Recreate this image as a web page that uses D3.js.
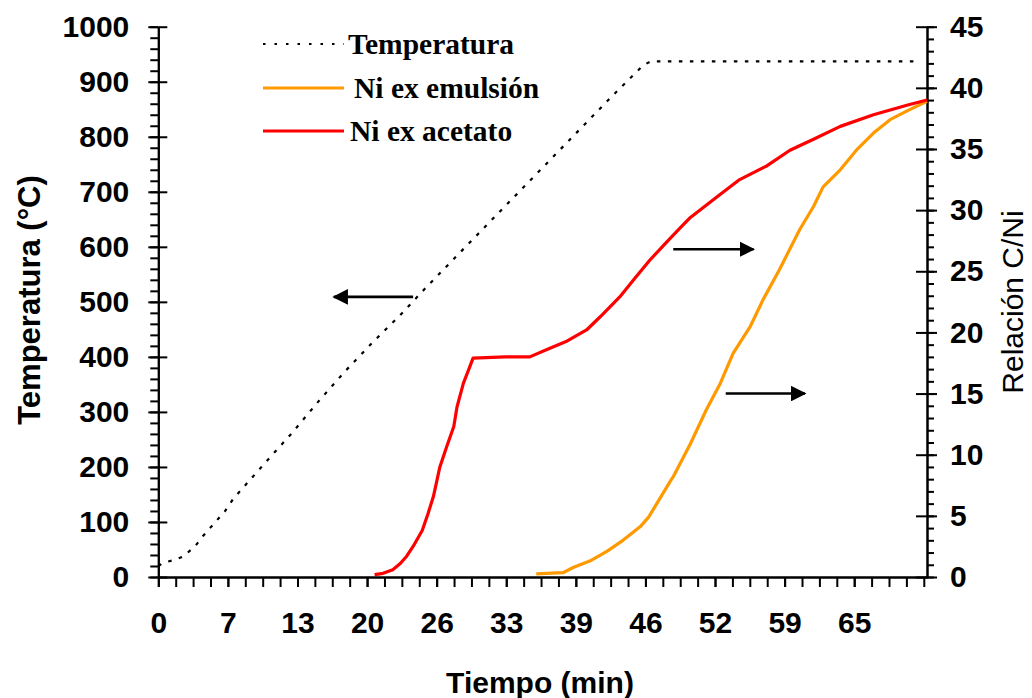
<!DOCTYPE html>
<html><head><meta charset="utf-8">
<script src="https://cdn.jsdelivr.net/npm/d3@7"></script>
<style>
body{margin:0;background:#fff;}
svg{display:block;}
</style></head>
<body>
<svg id="c" width="1032" height="698"></svg>
<script>
// ---- data ----
const xTickLabels = ["0","7","13","20","26","33","39","46","52","59","65"];
const xTickStep = 6.5;           // minutes between labelled ticks
const xMinorStep = 1.625;        // minutes between tick marks
const leftTicks = [0,100,200,300,400,500,600,700,800,900,1000];
const rightTicks = [0,5,10,15,20,25,30,35,40,45];

const tempTime = [0,0.5,1.5,2.3,3.4,4.2,5.2,6.2,7.0,8.0,10,12.5,15,17.5,20,22.6,25,27.5,29.8,32.5,35,37.5,40,42.5,45.3,46.0,70.6,71.1];
const tempVals = [20,26,31,37,55,75,97,119,142,164,208,262,320,375,426,476,526,576,622,676,726,776,826,876,930,937,937,930];

const acetTime = [20.2,21.0,21.9,22.6,23.2,23.8,24.65,25.2,25.7,26.3,26.95,27.6,27.9,28.5,29.1,29.4,32.4,34.7,36.3,38.2,40.0,41.3,43.1,44.4,45.9,47.5,48.7,49.7,52.2,54.3,56.8,59.0,61.2,63.7,66.8,70.0,71.8];
const acetVals = [0.2,0.3,0.6,1.1,1.7,2.5,3.8,5.2,6.6,9.0,10.7,12.3,13.9,15.85,17.2,17.9,18.0,18.0,18.6,19.3,20.2,21.3,22.9,24.3,25.9,27.4,28.5,29.4,31.1,32.5,33.6,34.9,35.8,36.85,37.8,38.6,39.0];

const emulTime = [35.3,37.8,38.8,40.3,41.9,43.4,45.0,45.8,46.7,47.8,48.1,49.7,51.2,52.5,53.7,55.3,56.5,58.0,59.9,61.2,62.1,63.7,65.2,66.8,68.35,69.9,71.8];
const emulVals = [0.25,0.35,0.8,1.3,2.1,3.0,4.1,4.9,6.2,7.8,8.2,10.9,13.7,15.85,18.3,20.5,22.7,25.1,28.4,30.3,31.9,33.3,34.9,36.3,37.4,38.1,38.9];

const legendNames = ["Temperatura","Ni ex emulsión","Ni ex acetato"];
// arrows: [x1, x2, value, axis]
const arrows = [[23.8,16.4,509,"L"],[48.1,55.6,26.8,"R"],[53.0,60.4,15.0,"R"]];

// ---- layout ----
const svg = d3.select("#c");
const X0 = 158.3, X1 = 927, Y0 = 577, Y1 = 26.7;
const x = d3.scaleLinear().domain([0,71.8]).range([X0,X1]);
const yL = d3.scaleLinear().domain([0,1000]).range([Y0,Y1]);
const yR = d3.scaleLinear().domain([0,45]).range([Y0,Y1]);
const font = "'Liberation Sans', Arial, sans-serif";

function styleAxis(g){
  g.selectAll("path.domain").attr("stroke","#000").attr("stroke-width",2);
  g.selectAll(".tick line").attr("stroke","#000").attr("stroke-width",2);
  g.selectAll("text").attr("font-family",font).attr("font-size",30).attr("font-weight","bold").attr("fill","#000");
}

// minor ticks
const leftMinor = d3.range(0,1001,20);
const rightMinor = d3.range(0,46,1);
const xMinor = d3.range(0,71.8,xMinorStep);

svg.append("g").attr("transform",`translate(${X0},0)`)
  .call(d3.axisLeft(yL).tickValues(leftMinor).tickSize(8).tickFormat("").tickSizeOuter(0)).call(styleAxis);
svg.append("g").attr("transform",`translate(${X0},0)`)
  .call(d3.axisLeft(yL).tickValues(leftTicks).tickSize(10).tickPadding(19).tickFormat(d=>String(d)).tickSizeOuter(0)).call(styleAxis);
svg.append("g").attr("transform",`translate(${X0},0)`)
  .call(d3.axisRight(yL).tickValues(leftTicks).tickSize(9).tickFormat("").tickSizeOuter(0)).call(styleAxis)
  .select("path.domain").remove();

svg.append("g").attr("transform",`translate(${X1},0)`)
  .call(d3.axisRight(yR).tickValues(rightMinor).tickSize(7).tickFormat("").tickSizeOuter(0)).call(styleAxis);
svg.append("g").attr("transform",`translate(${X1},0)`)
  .call(d3.axisRight(yR).tickValues(rightTicks).tickSize(10).tickPadding(13).tickFormat(d=>String(d)).tickSizeOuter(0)).call(styleAxis);
svg.append("g").attr("transform",`translate(${X1},0)`)
  .call(d3.axisLeft(yR).tickValues(rightTicks).tickSize(11).tickFormat("").tickSizeOuter(0)).call(styleAxis)
  .select("path.domain").remove();

svg.append("g").attr("transform",`translate(0,${Y0})`)
  .call(d3.axisBottom(x).tickValues(xMinor).tickSize(10).tickFormat("").tickSizeOuter(0)).call(styleAxis);
svg.append("g").attr("transform",`translate(0,${Y0})`)
  .call(d3.axisBottom(x).tickValues(xTickLabels.map((d,i)=>i*xTickStep)).tickSize(10).tickPadding(25)
        .tickFormat((d,i)=>xTickLabels[i]).tickSizeOuter(0)).call(styleAxis);

// axis titles
svg.append("text").attr("transform","translate(40,300) rotate(-90)").attr("text-anchor","middle")
  .attr("font-family",font).attr("font-weight","bold").attr("font-size",31).text("Temperatura (°C)");
svg.append("text").attr("transform","translate(1023,302) rotate(-90)").attr("text-anchor","middle")
  .attr("font-family",font).attr("font-size",30).text("Relación C/Ni");
svg.append("text").attr("x",540).attr("y",693).attr("text-anchor","middle")
  .attr("font-family",font).attr("font-weight","bold").attr("font-size",30).text("Tiempo (min)");

// series
const lineL = d3.line().x(d=>x(d[0])).y(d=>yL(d[1]));
const lineR = d3.line().x(d=>x(d[0])).y(d=>yR(d[1]));
const z = (a,b)=>a.map((t,i)=>[t,b[i]]);

svg.append("path").datum(z(tempTime,tempVals)).attr("d",lineL)
  .attr("fill","none").attr("stroke","#000").attr("stroke-width",2.2).attr("stroke-dasharray","3.5,7.5");
svg.append("path").datum(z(emulTime,emulVals)).attr("d",lineR)
  .attr("fill","none").attr("stroke","#FF9900").attr("stroke-width",3.2).attr("stroke-linejoin","round");
svg.append("path").datum(z(acetTime,acetVals)).attr("d",lineR)
  .attr("fill","none").attr("stroke","#FF0000").attr("stroke-width",3.2).attr("stroke-linejoin","round");

// arrows
svg.append("defs").append("marker").attr("id","ah").attr("viewBox","0 0 10 10")
  .attr("refX",9).attr("refY",5).attr("markerWidth",6).attr("markerHeight",6)
  .attr("markerUnits","strokeWidth").attr("orient","auto")
  .append("path").attr("d","M0,0L10,5L0,10Z").attr("fill","#000");
arrows.forEach(a=>{
  const ys = a[3]==="L" ? yL(a[2]) : yR(a[2]);
  svg.append("line").attr("x1",x(a[0])).attr("x2",x(a[1])).attr("y1",ys).attr("y2",ys)
    .attr("stroke","#000").attr("stroke-width",2.6).attr("marker-end","url(#ah)");
});

// legend
const legStroke = ["#000","#FF9900","#FF0000"];
const legY = [44,88,131];
const legTextX = [348,354,350];
legendNames.forEach((n,i)=>{
  const ln = svg.append("line").attr("x1",263).attr("x2",344).attr("y1",legY[i]).attr("y2",legY[i])
    .attr("stroke",legStroke[i]).attr("stroke-width",i===0?2:3);
  if(i===0) ln.attr("stroke-dasharray","2.5,9");
  svg.append("text").attr("x",legTextX[i]).attr("y",legY[i]+10)
    .attr("font-family","'Liberation Serif','Times New Roman',serif").attr("font-weight","bold")
    .attr("font-size",29.5).text(n);
});
</script>
</body></html>
